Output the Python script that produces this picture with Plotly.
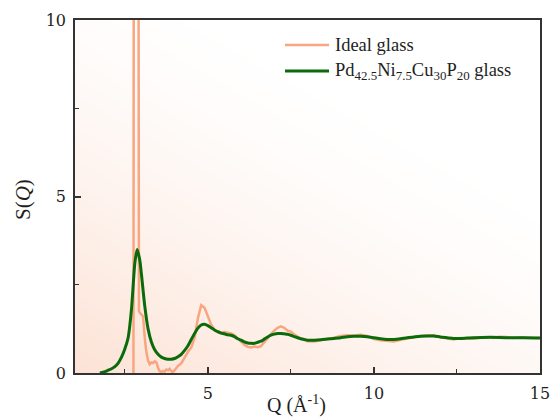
import numpy as np
import plotly.graph_objects as go

# ---- data ----
q_ideal = [2.76, 2.775, 2.85, 2.915, 2.925, 2.96, 3.0, 3.05, 3.1, 3.14, 3.2, 3.25, 3.3, 3.35, 3.4,
           3.45, 3.5, 3.55, 3.6, 3.65, 3.7, 3.75, 3.8, 3.85, 3.9, 3.95, 4.0, 4.05, 4.1, 4.2,
           4.3, 4.4, 4.5, 4.6, 4.7, 4.8, 4.9, 5.0, 5.1, 5.2, 5.3, 5.4, 5.5, 5.6, 5.7,
           5.8, 5.9, 6.0, 6.1, 6.2, 6.3, 6.4, 6.5, 6.6, 6.7, 6.8, 6.9, 7.0, 7.1, 7.2,
           7.3, 7.4, 7.5, 7.6, 7.7, 7.8, 7.9, 8.0, 8.2, 8.4, 8.6, 8.8, 9.0, 9.2, 9.4,
           9.6, 9.8, 10.0, 10.2, 10.4, 10.6, 10.8, 11.0, 11.2, 11.4, 11.6, 11.8, 12.0, 12.2, 12.4,
           12.6, 12.8, 13.0, 13.2, 13.4, 13.6, 13.8, 14.0, 14.2, 14.4, 14.6, 14.8, 15.0]
s_ideal = [0, 20, 60, 20, 1.75, 1.7, 1.65, 1.6, 1.0, 0.65, 0.35, 0.25, 0.3, 0.28, 0.33,
           0.3, 0.15, 0.05, 0.03, 0.06, 0.04, 0.1, 0.08, 0.12, 0.05, 0.03, 0.08, 0.15, 0.2, 0.27,
           0.45, 0.6, 0.72, 1.0, 1.55, 1.92, 1.85, 1.6, 1.37, 1.22, 1.15, 1.14, 1.16, 1.14, 1.12,
           1.07, 0.98, 0.9, 0.8, 0.74, 0.72, 0.75, 0.73, 0.76, 0.88, 1.0, 1.1, 1.2, 1.28, 1.32,
           1.28, 1.2, 1.17, 1.1, 1.03, 0.97, 0.93, 0.9, 0.89, 0.92, 0.95, 1.0, 1.05, 1.07, 1.06,
           1.08, 1.05, 0.96, 0.93, 0.9, 0.89, 0.94, 0.98, 1.03, 1.05, 1.06, 1.07, 1.01, 0.97, 0.95,
           0.99, 0.98, 0.97, 1.0, 1.01, 0.99, 1.03, 1.02, 0.99, 1.01, 1.0, 0.98, 0.99]

q_glass = [1.75, 1.9, 2.0, 2.1, 2.2, 2.3, 2.4, 2.5, 2.6, 2.7, 2.8, 2.87, 2.95, 3.0, 3.1,
           3.2, 3.3, 3.4, 3.5, 3.6, 3.7, 3.8, 3.9, 4.0, 4.1, 4.2, 4.3, 4.4, 4.5, 4.6,
           4.7, 4.8, 4.9, 5.0, 5.1, 5.2, 5.3, 5.4, 5.5, 5.6, 5.7, 5.8, 5.9, 6.0, 6.1,
           6.2, 6.3, 6.4, 6.5, 6.6, 6.7, 6.8, 6.9, 7.0, 7.1, 7.2, 7.3, 7.4, 7.5, 7.6,
           7.7, 7.8, 7.9, 8.0, 8.2, 8.4, 8.6, 8.8, 9.0, 9.2, 9.4, 9.6, 9.8, 10.0, 10.2,
           10.4, 10.6, 10.8, 11.0, 11.2, 11.4, 11.6, 11.8, 12.0, 12.2, 12.4, 12.6, 12.8, 13.0, 13.5,
           14.0, 14.5, 15.0]
s_glass = [0, 0.04, 0.08, 0.12, 0.18, 0.28, 0.45, 0.68, 1.0, 1.8, 3.1, 3.5, 3.2, 2.8, 1.9,
           1.25, 0.88, 0.66, 0.53, 0.45, 0.41, 0.39, 0.39, 0.41, 0.46, 0.53, 0.64, 0.77, 0.95, 1.12,
           1.27, 1.36, 1.38, 1.34, 1.28, 1.22, 1.17, 1.13, 1.11, 1.08, 1.07, 1.03, 0.97, 0.93, 0.88,
           0.85, 0.84, 0.84, 0.87, 0.9, 0.96, 1.02, 1.07, 1.1, 1.12, 1.12, 1.11, 1.1, 1.07, 1.03,
           1.0, 0.97, 0.95, 0.93, 0.93, 0.94, 0.96, 0.98, 1.0, 1.03, 1.04, 1.04, 1.03, 1.0, 0.97,
           0.95, 0.95, 0.97, 1.0, 1.02, 1.04, 1.05, 1.05, 1.02, 1.0, 0.98, 0.98, 0.99, 1.0, 1.01,
           1.0, 1.0, 0.99]

x_ticks = [5, 10, 15]
y_ticks = [0, 5, 10]
name_ideal = "Ideal glass"
name_glass = "Pd<sub>42.5</sub>Ni<sub>7.5</sub>Cu<sub>30</sub>P<sub>20</sub> glass"
x_title = "Q (Å<sup>-1</sup>)"
y_title = "S(<i>Q</i>)"

COL_IDEAL = "#F9A57F"
COL_GLASS = "#0B6B0B"
TXT = "#1E1E1E"
TEXT_FONT = "Liberation Serif"
TICK_FONT = "DejaVu Serif"

# ---- background gradient (styling only): smooth, bottom-left peach -> top-right white ----
gx = np.linspace(1, 15, 60)
gy = np.linspace(0, 10, 60)
X, Y = np.meshgrid((gx - 1) / 14, gy / 10)
shade = np.clip(1 - (0.6 * X + 0.8 * Y), 0, 1) ** 1.5

fig = go.Figure()
fig.add_trace(go.Heatmap(x=gx, y=gy, z=shade, zmin=0, zmax=1, zsmooth="best",
                         colorscale=[[0, "#FFFFFF"], [1, "#FCE2D5"]],
                         showscale=False, hoverinfo="skip", showlegend=False))
fig.add_trace(go.Scatter(x=q_ideal, y=s_ideal, mode="lines", name=name_ideal,
                         line=dict(color=COL_IDEAL, width=2.5), showlegend=False))
fig.add_trace(go.Scatter(x=q_glass, y=s_glass, mode="lines", name=name_glass,
                         line=dict(color=COL_GLASS, width=3, shape="spline", smoothing=0.6),
                         showlegend=False))

axis_common = dict(showgrid=False, zeroline=False, showline=True, linecolor="#333333",
                   linewidth=1.5, mirror=True, ticks="inside", ticklen=6, tickwidth=1.5,
                   tickcolor="#333333", automargin=False,
                   tickfont=dict(family=TICK_FONT, size=16, color=TXT))
fig.update_xaxes(range=[1, 15], tickvals=x_ticks, ticklabelstandoff=5,
                 minor=dict(dtick=2.5, tick0=0, ticks="inside", ticklen=4, tickcolor="#333333", tickwidth=1.2),
                 **axis_common)
fig.update_yaxes(range=[0, 10], tickvals=y_ticks, ticklabelstandoff=4,
                 minor=dict(dtick=2.5, tick0=0, ticks="inside", ticklen=4, tickcolor="#333333", tickwidth=1.2),
                 **axis_common)

# ---- manual legend (lines + text) ----
L, R, T, B = 75, 540, 20, 373
def px_x(p):
    return (p - L) / (R - L)
def px_y(p):
    return (B - p) / (B - T)

legend_rows = [(name_ideal, COL_IDEAL, 2.5, 45), (name_glass, COL_GLASS, 3, 71)]
for text, col, w, py in legend_rows:
    fig.add_shape(type="line", xref="paper", yref="paper", x0=px_x(285), x1=px_x(329),
                  y0=px_y(py), y1=px_y(py), line=dict(color=col, width=w))
    fig.add_annotation(text=text, xref="paper", yref="paper", x=px_x(333), y=px_y(py),
                       xanchor="left", yanchor="middle", showarrow=False,
                       font=dict(family=TEXT_FONT, size=18.5, color=TXT))

fig.add_annotation(text=x_title, xref="paper", yref="paper", x=px_x(296), y=px_y(404),
                   xanchor="center", yanchor="middle", showarrow=False,
                   font=dict(family=TEXT_FONT, size=20, color=TXT))
fig.add_annotation(text=y_title, xref="paper", yref="paper", x=px_x(23), y=px_y(200),
                   xanchor="center", yanchor="middle", showarrow=False, textangle=-90,
                   font=dict(family=TEXT_FONT, size=21, color=TXT))

fig.update_layout(
    width=552, height=418,
    margin=dict(l=L, r=552 - R, t=T, b=418 - B),
    paper_bgcolor="white", plot_bgcolor="white",
    showlegend=False,
)

fig.write_html("out.html", config={"displayModeBar": False},
               post_script="document.body.style.margin='0';document.body.style.overflow='hidden';")
